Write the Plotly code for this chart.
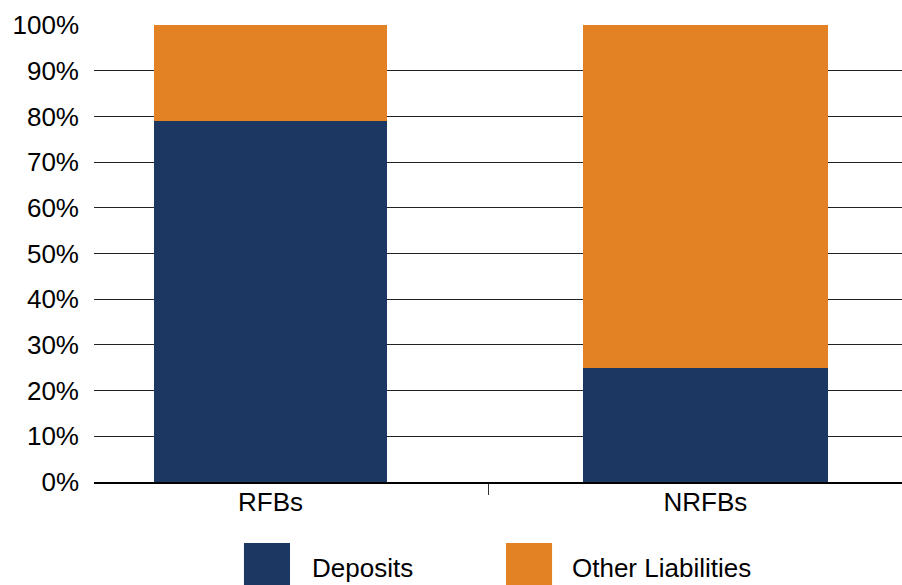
import plotly.graph_objects as go

# Data
categories = ["RFBs", "NRFBs"]
deposits = [79, 25]
other_liabilities = [21, 75]
y_ticks = list(range(0, 101, 10))
y_tick_labels = [f"{v}%" for v in y_ticks]

navy = "#1C3762"
orange = "#E38225"
font_family = "Liberation Sans, Arial, Helvetica, sans-serif"
bar_widths = [0.535, 0.563]

fig = go.Figure()
fig.add_trace(go.Bar(x=categories, y=deposits, name="Deposits",
                     marker=dict(color=navy, line=dict(width=0)),
                     width=bar_widths, showlegend=False))
fig.add_trace(go.Bar(x=categories, y=other_liabilities, name="Other Liabilities",
                     marker=dict(color=orange, line=dict(width=0)),
                     width=bar_widths, showlegend=False))

fig.update_layout(
    barmode="stack",
    width=902, height=585,
    margin=dict(l=94, r=0, t=25, b=103),
    plot_bgcolor="white",
    paper_bgcolor="white",
    font=dict(family=font_family, size=26, color="#000000"),
    showlegend=False,
)

fig.update_xaxes(
    type="category",
    range=[-0.406, 1.452],
    showline=True, linecolor="#000000", linewidth=1.5,
    ticks="outside", tickson="boundaries", ticklen=11, tickcolor="#333333", tickwidth=1,
    showgrid=False,
    tickfont=dict(size=26, color="#000000"),
    ticklabelstandoff=-4,
)

fig.update_yaxes(
    range=[0, 100],
    tickvals=y_ticks, ticktext=y_tick_labels,
    showgrid=True, gridcolor="#222222", gridwidth=1,
    zeroline=False, showline=False, ticks="",
    tickfont=dict(size=26, color="#000000"),
    ticklabelstandoff=14,
)

# Legend drawn as paper-anchored swatches and labels
legend_items = [("Deposits", navy, 0.1856, 0.2670), ("Other Liabilities", orange, 0.5099, 0.5890)]
for label, color, x0, tx in legend_items:
    fig.add_shape(type="rect", xref="paper", yref="paper",
                  x0=x0, x1=x0 + 0.0570, y0=-0.245, y1=-0.1335,
                  fillcolor=color, line=dict(width=0), layer="above")
    fig.add_annotation(text=label, xref="paper", yref="paper",
                       x=tx, y=-0.188, xanchor="left", yanchor="middle",
                       showarrow=False, font=dict(size=26, color="#000000"))

fig.write_html("out.html", config={"displayModeBar": False},
               post_script="document.body.style.margin='0';document.body.style.overflow='hidden';")
